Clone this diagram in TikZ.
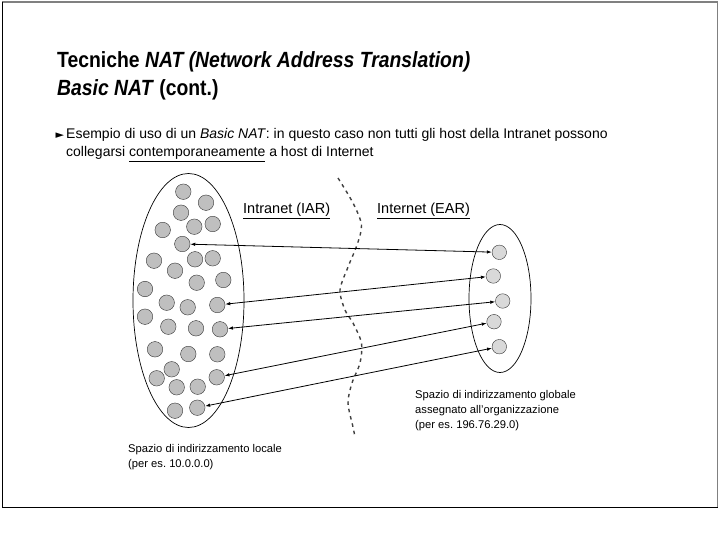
\documentclass[tikz,border=0pt]{standalone}
\usepackage{fontspec}
\setmainfont{Liberation Sans}
\newfontfamily\titlefont[FakeStretch=0.88]{Liberation Sans}
\newfontfamily\symfont{DejaVu Sans}
\usetikzlibrary{arrows.meta,shapes.geometric}

\begin{document}
\begin{tikzpicture}[x=1pt,y=-1pt,
  lhost/.style={circle, draw=black!80, fill=black!25, minimum size=15.5pt, inner sep=0pt},
  pubhost/.style={circle, draw=black!80, fill=black!15, minimum size=14.5pt, inner sep=0pt},
  addrspace/.style={ellipse, draw, line width=0.7pt, inner sep=0pt},
  natlink/.style={{Latex[length=5pt,width=3.5pt]}-{Latex[length=5pt,width=3.5pt]}, line width=0.8pt},
  lbl/.style={anchor=base west, align=left, inner sep=0pt, font=\fontsize{11.2}{15}\selectfont}]
  \useasboundingbox (0,0) rectangle (720,540);
  % Frame
  \draw[black!50, line width=1.2pt] (2,2) -- (717.5,2) -- (717.5,508);
  \draw[black, line width=1.2pt] (2.5,2) -- (2.5,507.5) -- (717.5,507.5);
  % Heading (base = last line)
  \node[anchor=base west, align=left, inner sep=0pt, font=\titlefont\bfseries\fontsize{22}{28}\selectfont] (title) at (57,96) {Tecniche \textit{NAT (Network Address Translation)}\\\textit{Basic NAT} (cont.)};
  \node[anchor=base west, inner sep=0pt, font=\symfont\fontsize{11}{11}\selectfont] (mark) at (55.5,139) {►};
  \node[anchor=base west, align=left, inner sep=0pt, font=\fontsize{14}{18}\selectfont] (intro) at (66,157) {Esempio di uso di un \textit{Basic NAT}: in questo caso non tutti gli host della Intranet possono\\collegarsi \underline{contemporaneamente} a host di Internet};
  % Address spaces
  \node[addrspace, minimum width=111pt, minimum height=254pt] (intra) at (188.5,300.5) {};
  \node[addrspace, minimum width=62pt, minimum height=148pt] (inter) at (500,298.5) {};
  \foreach \x/\y [count=\i] in {183.3/191.7, 206/202.7, 181/212.7, 162.7/230, 194.3/226.7, 212.7/224,
      182.3/244, 154/260.7, 195/259.3, 212.7/258.3, 175/270.7, 196.7/282.7, 223.3/280, 145/289,
      166.7/302.7, 187.7/307.3, 217.3/305, 145/316.7, 168.3/326.7, 196/328.3, 220/329.3,
      155/349.3, 188.3/354, 217.3/354.3, 171.7/369.3, 156.7/378.3, 176.7/387.3, 197.7/386.7,
      216.7/377.3, 175/410.7, 197.3/407.7}
    \node[lhost] (l\i) at (\x,\y) {};
  \foreach \x/\y [count=\i] in {499.3/252.3, 493.3/276, 502.7/301, 494/321.7, 499.3/346.7}
    \node[pubhost] (g\i) at (\x,\y) {};
  % Border between intranet and internet
  \draw[black!75, line width=1.4pt, dash pattern=on 3.5pt off 4pt]
    plot[smooth] coordinates {(338,178) (353,203) (361.5,225) (357,245) (348,267) (340,290)
      (345,310) (353,323) (361.5,343) (360,363) (352,383) (348,403) (353,427) (355,437)};
  \node[anchor=base west, inner sep=0pt, font=\fontsize{14.5}{16}\selectfont] (intralbl) at (243,214) {\underline{Intranet (IAR)}};
  \node[anchor=base west, inner sep=0pt, font=\fontsize{14.5}{16}\selectfont] (interlbl) at (377,214) {\underline{Internet (EAR)}};
  % Mappings
  \draw[natlink] (g1) -- (l7);
  \draw[natlink] (g2) -- (l17);
  \draw[natlink] (g3) -- (l21);
  \draw[natlink] (g4) -- (l29);
  \draw[natlink] (g5) -- (l31);
  % Captions (base = last line)
  \node[lbl] (globlbl) at (415,428) {Spazio di indirizzamento globale\\assegnato all'organizzazione\\(per es.\ 196.76.29.0)};
  \node[lbl] (loclbl) at (128,467) {Spazio di indirizzamento locale\\(per es.\ 10.0.0.0)};
\end{tikzpicture}
\end{document}
